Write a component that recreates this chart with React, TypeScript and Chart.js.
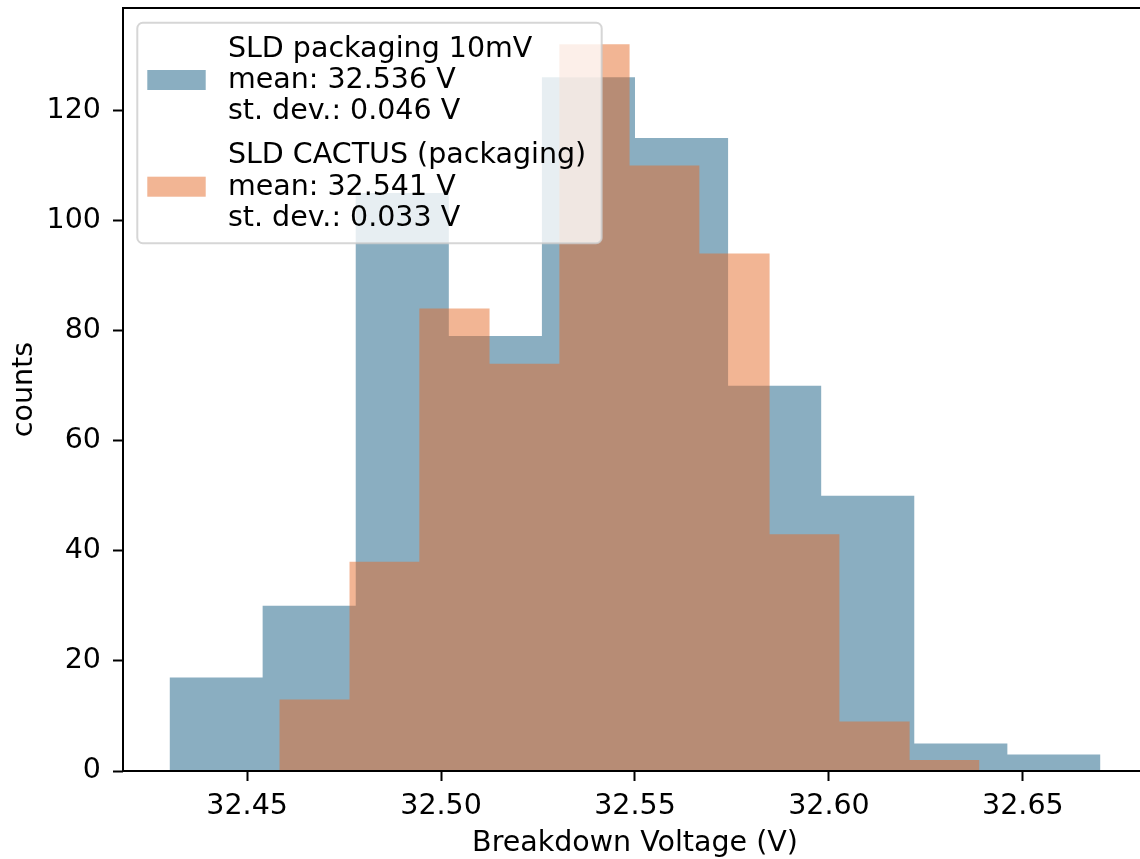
import React, { useEffect, useRef } from "react";
import { Chart, registerables } from "chart.js";

Chart.register(...registerables);

// ---- data ----
const blueEdges = [32.430, 32.454, 32.478, 32.502, 32.526, 32.550, 32.574, 32.598, 32.622, 32.646, 32.670];
const blueCounts = [17, 30, 105, 79, 126, 115, 70, 50, 5, 3];
const orangeEdges = [32.4583, 32.4764, 32.4944, 32.5125, 32.5305, 32.5486, 32.5666, 32.5847, 32.6027, 32.6208, 32.6388];
const orangeCounts = [13, 38, 84, 74, 132, 110, 94, 43, 9, 2];
const blueLabel = ["SLD packaging 10mV", "mean: 32.536 V", "st. dev.: 0.046 V"];
const orangeLabel = ["SLD CACTUS (packaging)", "mean: 32.541 V", "st. dev.: 0.033 V"];
const xTickValues = [32.45, 32.50, 32.55, 32.60, 32.65];
const yTickValues = [0, 20, 40, 60, 80, 100, 120];
const xRange = [32.418, 32.682];
const yRange = [0, 138.6];

const BLUE = "rgba(21,93,131,0.5)";
const ORANGE = "rgba(229,107,41,0.5)";
const FONT = '"DejaVu Sans", "Liberation Sans", sans-serif';
const FS = 28.5;

function histPoints(edges: number[], counts: number[]) {
  const pts: { x: number; y: number }[] = [{ x: edges[0], y: 0 }];
  for (let i = 0; i < counts.length; i++) {
    pts.push({ x: edges[i], y: counts[i] });
    pts.push({ x: edges[i + 1], y: counts[i] });
  }
  pts.push({ x: edges[edges.length - 1], y: 0 });
  return pts;
}

const framePlugin = {
  id: "frame",
  afterDatasetsDraw(chart: any) {
    const { ctx, chartArea } = chart;
    ctx.save();
    ctx.strokeStyle = "#000";
    ctx.lineWidth = 2;
    ctx.strokeRect(chartArea.left, chartArea.top, chartArea.right - chartArea.left, chartArea.bottom - chartArea.top);
    ctx.restore();
  },
};

const legendPlugin = {
  id: "mplLegend",
  afterDraw(chart: any) {
    const { ctx, chartArea } = chart;
    const L = chartArea.left;
    const T = chartArea.top;
    const bx = L + 14.3, by = T + 14.7, bw = 464.4, bh = 220.6, r = 5.6;
    ctx.save();
    ctx.beginPath();
    ctx.moveTo(bx + r, by);
    ctx.lineTo(bx + bw - r, by);
    ctx.arcTo(bx + bw, by, bx + bw, by + r, r);
    ctx.lineTo(bx + bw, by + bh - r);
    ctx.arcTo(bx + bw, by + bh, bx + bw - r, by + bh, r);
    ctx.lineTo(bx + r, by + bh);
    ctx.arcTo(bx, by + bh, bx, by + bh - r, r);
    ctx.lineTo(bx, by + r);
    ctx.arcTo(bx, by, bx + r, by, r);
    ctx.closePath();
    ctx.fillStyle = "rgba(255,255,255,0.8)";
    ctx.fill();
    ctx.strokeStyle = "rgba(204,204,204,0.8)";
    ctx.lineWidth = 2;
    ctx.stroke();

    const entries = [
      { label: blueLabel, color: BLUE, patchY: T + 62, base: T + 48.7 },
      { label: orangeLabel, color: ORANGE, patchY: T + 168.7, base: T + 155.3 },
    ];
    ctx.font = `${FS}px ${FONT}`;
    ctx.textBaseline = "alphabetic";
    ctx.textAlign = "left";
    for (const e of entries) {
      ctx.fillStyle = e.color;
      ctx.fillRect(L + 24.3, e.patchY, 58.4, 20);
      ctx.fillStyle = "#000";
      e.label.forEach((line, i) => {
        ctx.fillText(line, L + 104.9, e.base + i * 31.3);
      });
    }
    ctx.restore();
  },
};

export default function App() {
  const ref = useRef<HTMLCanvasElement | null>(null);
  useEffect(() => {
    if (!ref.current) return;
    const chart = new Chart(ref.current, {
      type: "line",
      data: {
        datasets: [
          {
            label: blueLabel.join("\n"),
            data: histPoints(blueEdges, blueCounts),
            backgroundColor: BLUE,
            borderColor: "rgba(0,0,0,0)",
            borderWidth: 0,
            pointRadius: 0,
            tension: 0,
            fill: "origin",
            order: 1,
          },
          {
            label: orangeLabel.join("\n"),
            data: histPoints(orangeEdges, orangeCounts),
            backgroundColor: ORANGE,
            borderColor: "rgba(0,0,0,0)",
            borderWidth: 0,
            pointRadius: 0,
            tension: 0,
            fill: "origin",
            order: 0,
          },
        ],
      },
      options: {
        responsive: false,
        animation: false,
        devicePixelRatio: 1,
        events: [],
        layout: { padding: { top: 8, right: 13, left: 0, bottom: 0 } },
        plugins: { legend: { display: false }, tooltip: { enabled: false } },
        scales: {
          x: {
            type: "linear",
            min: xRange[0],
            max: xRange[1],
            afterBuildTicks: (s: any) => {
              s.ticks = xTickValues.map((v) => ({ value: v }));
            },
            afterFit: (s: any) => {
              s.height = 88;
              s.paddingLeft = 0;
              s.paddingRight = 0;
            },
            grid: { drawOnChartArea: false, drawTicks: true, tickLength: 10, tickWidth: 2, tickColor: "#000" },
            border: { display: false },
            ticks: {
              autoSkip: false,
              maxRotation: 0,
              padding: 8,
              color: "#000",
              font: { family: FONT, size: FS, lineHeight: 1.2 },
              callback: (v: any) => Number(v).toFixed(2),
            },
            title: {
              display: true,
              text: "Breakdown Voltage (V)",
              color: "#000",
              font: { family: FONT, size: FS, lineHeight: 1 },
              padding: { top: 0, bottom: 1 },
            },
          },
          y: {
            type: "linear",
            min: yRange[0],
            max: yRange[1],
            afterBuildTicks: (s: any) => {
              s.ticks = yTickValues.map((v) => ({ value: v }));
            },
            afterFit: (s: any) => {
              s.width = 123;
              s.paddingTop = 0;
              s.paddingBottom = 0;
            },
            grid: { drawOnChartArea: false, drawTicks: true, tickLength: 10, tickWidth: 2, tickColor: "#000" },
            border: { display: false },
            ticks: {
              autoSkip: false,
              padding: 12,
              color: "#000",
              font: { family: FONT, size: FS, lineHeight: 1.2 },
              callback: (v: any) => String(v),
            },
            title: {
              display: true,
              text: "counts",
              color: "#000",
              font: { family: FONT, size: FS, lineHeight: 1 },
              padding: { top: 10, bottom: 0 },
            },
          },
        },
      },
      plugins: [framePlugin, legendPlugin],
    } as any);
    return () => chart.destroy();
  }, []);

  return (
    <div
      style={{
        position: "fixed",
        left: 0,
        top: 0,
        width: 1140,
        height: 859,
        overflow: "hidden",
        background: "#fff",
      }}
    >
      <canvas ref={ref} width={1160} height={859} style={{ display: "block", width: 1160, height: 859 }} />
    </div>
  );
}
